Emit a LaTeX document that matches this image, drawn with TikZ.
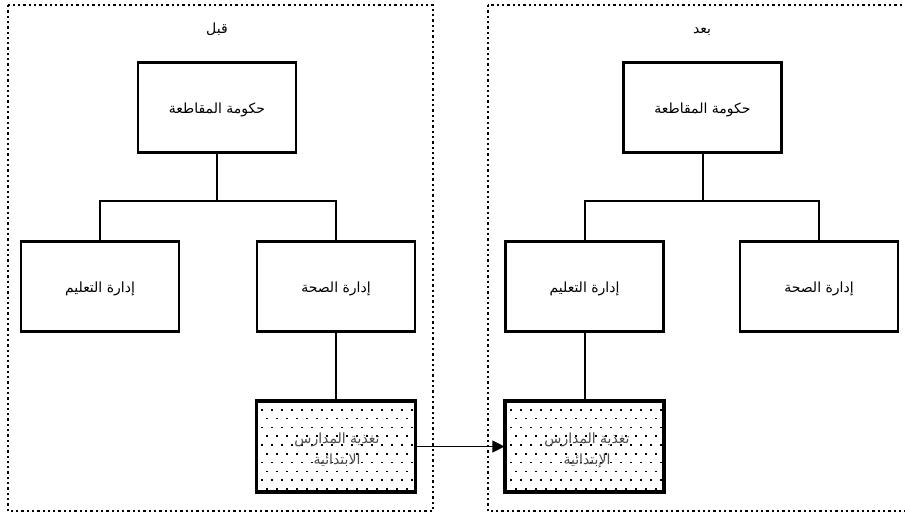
\documentclass[tikz,border=0pt]{standalone}
\usepackage{fontspec}
\newfontfamily\arabicfont[Script=Arabic]{DejaVu Sans}
\TeXXeTstate=1
\usetikzlibrary{arrows.meta}
\tikzset{
  frame/.style={line width=2.3pt, dash pattern=on 2.3pt off 3pt},
  orgbox/.style={draw, line width=2.1pt, minimum width=158pt, minimum height=90pt, inner sep=0pt, fill=white, text height=12pt, text depth=0pt, font=\arabicfont\fontsize{14}{16}\selectfont},
  conn/.style={line width=2pt},
  lbl/.style={font=\arabicfont\fontsize{14}{16}\selectfont, inner sep=0pt, text height=12pt, text depth=0pt},
  dottxt/.style={font=\arabicfont\fontsize{14}{21}\selectfont, text=black!70, align=center, inner sep=0pt},
}
\newcommand{\mydotpattern}[3]{%
  \begin{scope}
    \clip (#1.south west) rectangle (#1.north east);
    \foreach \r [evaluate=\r as \off using {mod(\r,2)*5}] in {0,...,10} {
      \foreach \c in {0,...,16} {
        \fill ({#2+\c*10+\off},{#3+\r*8.8}) rectangle ++(2,1.6);
      }
    }
  \end{scope}}
\begin{document}
\begin{tikzpicture}[x=1pt,y=-1pt]
\useasboundingbox (0,0) rectangle (905,515);
% frames
\draw[frame] (8,5) rectangle (433,511);
\begin{scope}
\clip (0,0) rectangle (905,515);
\draw[frame] (488,5) rectangle (915,511);
\end{scope}
\node[lbl] (before) at (217,27) {\beginR قبل\endR};
\node[lbl] (after) at (702,27) {\beginR بعد\endR};
% left side
\node[orgbox] (gL) at (217,107.5) {\beginR حكومة المقاطعة\endR};
\node[orgbox] (eduL) at (100,286.5) {\beginR إدارة التعليم\endR};
\node[orgbox] (heaL) at (336,286.5) {\beginR إدارة الصحة\endR};
\node[orgbox] (nutL) at (336,446.5) {};
\coordinate (jL) at (217,201);
\draw[conn] (gL.south) -- (jL);
\draw[conn] (eduL.north) |- (jL) -| (heaL.north);
\draw[conn] (heaL.south) -- (nutL.north);
% right side
\node[orgbox] (gR) at (702.5,107.5) {\beginR حكومة المقاطعة\endR};
\node[orgbox] (eduR) at (584.5,286.5) {\beginR إدارة التعليم\endR};
\node[orgbox] (heaR) at (819,286.5) {\beginR إدارة الصحة\endR};
\node[orgbox] (nutR) at (584.5,446.5) {};
\coordinate (jR) at (702.5,201);
\draw[conn] (gR.south) -- (jR);
\draw[conn] (eduR.north) |- (jR) -| (heaR.north);
\draw[conn] (eduR.south) -- (nutR.north);
% patterned boxes
\mydotpattern{nutL}{261}{409}
\mydotpattern{nutR}{510}{409}
\node[dottxt] (tL) at (337,450) {\beginR تغذية المدارس\endR\\\beginR الابتدائية\endR};
\node[dottxt] (tR) at (587,450) {\beginR تغذية المدارس\endR\\\beginR الإبتدائية\endR};
\draw[line width=2.1pt] (nutL.south west) rectangle (nutL.north east);
\draw[line width=2.1pt] (nutR.south west) rectangle (nutR.north east);
% arrow
\draw[line width=1pt, -{Triangle[length=12pt,width=12pt]}] (nutL.east) -- (nutR.west);
\end{tikzpicture}
\end{document}
